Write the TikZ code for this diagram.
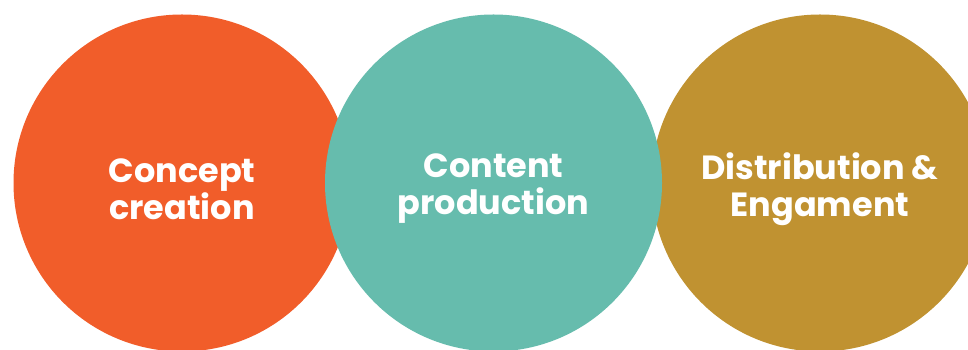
\documentclass[tikz,border=0pt]{standalone}
\usepackage{fontspec}
\setmainfont{Poppins}
\usepackage{xcolor}
\usepackage{tikz}
\usetikzlibrary{shapes.geometric}
\definecolor{conceptorange}{HTML}{F15D2A}
\definecolor{contentteal}{HTML}{66BCAD}
\definecolor{distgold}{HTML}{C09231}
\tikzstyle{bubble} = [circle, minimum size=337pt, inner sep=0pt]
\tikzstyle{caption} = [text=white, align=center, font=\fontsize{33.5}{37}\selectfont\bfseries]

\begin{document}
\begin{tikzpicture}[x=1pt, y=1pt, node distance=311.5pt]
   \useasboundingbox (0,0) rectangle (968,350);
   \fill [white] (0,0) rectangle (968,350);
   \node (concept) [bubble, fill=conceptorange] at (182,167) {};
   \node (dist) [bubble, fill=distgold, right of=concept, xshift=326.5pt] {};
   \node (content) [bubble, fill=contentteal, right of=concept] {};
   \node (concepttext) [caption] at ([yshift=-6pt]concept.center) {Concept\\creation};
   \node (contenttext) [caption] at ([yshift=-6pt]content.center) {Content\\production};
   \node (disttext) [caption] at ([yshift=-6pt]dist.center) {Distribution \&\\Engament};
\end{tikzpicture}
\end{document}
